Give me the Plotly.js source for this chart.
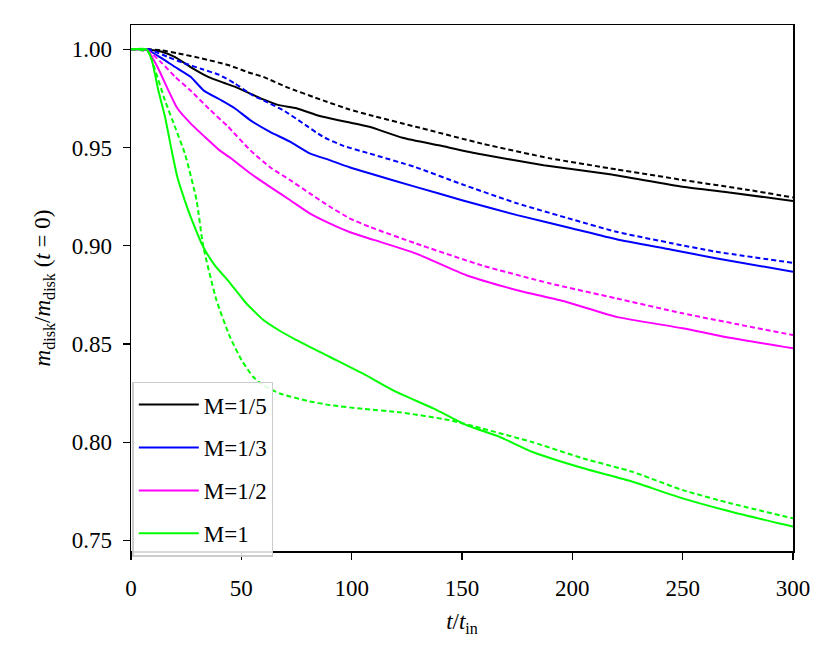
<!DOCTYPE html>
<html>
<head>
<meta charset="utf-8">
<script src="https://cdn.plot.ly/plotly-3.0.1.min.js"></script>
<style>html,body{margin:0;padding:0;background:#fff;}#chart{width:832px;height:659px;}</style>
</head>
<body>
<div id="chart"></div>
<script>
// M=1/5
const tBlackSolid = [0, 5, 8, 14, 20, 27, 35, 42, 47, 55, 60, 67, 75, 84, 90, 98, 108, 123, 140, 158, 187, 217, 250, 272, 300];
const vBlackSolid = [1.0, 1.0, 0.9998, 0.9988, 0.996, 0.991, 0.986, 0.983, 0.981, 0.977, 0.9745, 0.9716, 0.970, 0.9666, 0.9649, 0.963, 0.9606, 0.955, 0.951, 0.9467, 0.941, 0.9364, 0.930, 0.927, 0.9228];
const tBlackDash = [0, 8, 14, 21, 32, 44, 54, 60, 70, 87, 99, 108, 129, 159, 190, 220, 250, 280, 300];
const vBlackDash = [1.0, 1.0, 0.9995, 0.998, 0.9954, 0.992, 0.988, 0.986, 0.981, 0.974, 0.9694, 0.9666, 0.9606, 0.952, 0.9445, 0.9389, 0.9335, 0.9284, 0.9246];
// M=1/3
const tBlueSolid = [0, 7, 14, 20, 27, 33, 41, 47, 54, 63, 72, 81, 90, 99, 108, 129, 150, 175, 200, 220, 245, 265, 300];
const vBlueSolid = [1.0, 1.0, 0.9954, 0.991, 0.986, 0.979, 0.974, 0.970, 0.964, 0.958, 0.953, 0.947, 0.9436, 0.940, 0.9369, 0.930, 0.9232, 0.9156, 0.9088, 0.9033, 0.898, 0.8936, 0.8868];
const tBlueDash = [0, 8, 11, 17, 24, 32, 40, 47, 55, 60, 69, 78, 87, 96, 108, 129, 150, 175, 200, 220, 245, 265, 300];
const vBlueDash = [1.0, 1.0, 0.9988, 0.996, 0.993, 0.990, 0.987, 0.9827, 0.9767, 0.974, 0.969, 0.9623, 0.9555, 0.951, 0.947, 0.940, 0.9313, 0.9216, 0.9134, 0.9071, 0.9013, 0.897, 0.8913];
// M=1/2
const tMagSolid = [0, 7, 8, 12, 17, 21, 27, 35, 40, 45, 54, 63, 72, 81, 90, 99, 110, 129, 152, 175, 197, 220, 250, 272, 300];
const vMagSolid = [1.0, 1.0, 0.999, 0.991, 0.979, 0.970, 0.9623, 0.9538, 0.9487, 0.9448, 0.9369, 0.930, 0.9233, 0.9165, 0.9114, 0.907, 0.903, 0.8961, 0.885, 0.8774, 0.8715, 0.8638, 0.858, 0.853, 0.8478];
const tMagDash = [0, 8, 14, 20, 27, 36, 44, 54, 63, 72, 81, 90, 99, 108, 129, 159, 190, 220, 250, 275, 300];
const vMagDash = [1.0, 0.999, 0.993, 0.986, 0.979, 0.969, 0.9606, 0.9487, 0.940, 0.9335, 0.9267, 0.920, 0.914, 0.9097, 0.9012, 0.890, 0.8808, 0.8732, 0.8656, 0.860, 0.8545];
// M=1
const tGreenSolid = [0, 7, 9.4, 12.4, 15.4, 18.4, 21, 24.4, 27, 32.7, 38, 45, 52, 60, 67, 75, 90, 105, 120, 137, 152, 167, 182, 205, 227, 250, 272, 300];
const vGreenSolid = [1.0, 1.0, 0.9946, 0.979, 0.9657, 0.9487, 0.935, 0.923, 0.9148, 0.8995, 0.890, 0.8809, 0.871, 0.8622, 0.857, 0.852, 0.8435, 0.835, 0.8257, 0.8172, 0.8087, 0.8027, 0.795, 0.7867, 0.780, 0.7714, 0.7646, 0.757];
const tGreenDash = [0, 7.8, 10.9, 15.4, 19.9, 24.4, 29.7, 32.7, 38.7, 44.8, 50, 55.3, 60, 67.4, 80, 90, 105, 122, 144, 159, 182, 205, 227, 250, 272, 300];
const vGreenDash = [1.0, 0.9988, 0.9895, 0.974, 0.9606, 0.947, 0.9233, 0.9, 0.8724, 0.8537, 0.842, 0.8333, 0.829, 0.8248, 0.821, 0.8189, 0.817, 0.8152, 0.8113, 0.807, 0.800, 0.7917, 0.785, 0.7756, 0.7688, 0.7612];

const seriesNames = ['M=1/5', 'M=1/3', 'M=1/2', 'M=1'];
const xTicks = [0, 50, 100, 150, 200, 250, 300];
const yTicks = [0.75, 0.80, 0.85, 0.90, 0.95, 1.00];

const colors = ['#000000', '#0000ff', '#ff00ff', '#00ff00'];
const solid = [[tBlackSolid, vBlackSolid], [tBlueSolid, vBlueSolid], [tMagSolid, vMagSolid], [tGreenSolid, vGreenSolid]];
const dashed = [[tBlackDash, vBlackDash], [tBlueDash, vBlueDash], [tMagDash, vMagDash], [tGreenDash, vGreenDash]];

const traces = [];
for (let i = 0; i < 4; i++) {
  traces.push({x: solid[i][0], y: solid[i][1], type: 'scatter', mode: 'lines',
    name: seriesNames[i], legendgroup: 'g' + i,
    line: {color: colors[i], width: 2, shape: 'spline', smoothing: 0.5}});
  traces.push({x: dashed[i][0], y: dashed[i][1], type: 'scatter', mode: 'lines',
    showlegend: false, legendgroup: 'g' + i,
    line: {color: colors[i], width: 2, dash: '5px,3px', shape: 'spline', smoothing: 0.5}});
}

const fam = '"Liberation Serif", "DejaVu Serif", serif';
const font = {family: fam, size: 23, color: '#000'};
const tickFont = {family: fam, size: 23, color: '#000'};
const layout = {
  width: 832, height: 659,
  margin: {l: 131, r: 39, t: 25, b: 108},
  paper_bgcolor: '#fff', plot_bgcolor: '#fff',
  font: font,
  showlegend: true,
  legend: {x: 0.002, y: 0.322, xanchor: 'left', yanchor: 'top',
    bgcolor: 'rgba(255,255,255,0.85)', bordercolor: '#cccccc', borderwidth: 1.5,
    font: font, traceorder: 'grouped', tracegroupgap: 10, itemwidth: 60},
  xaxis: {range: [0, 300], tickvals: xTicks, ticktext: xTicks.map(String), tickfont: tickFont,
    ticks: 'outside', ticklen: 7, tickwidth: 1.3, tickcolor: '#000',
    showline: true, linecolor: '#000', linewidth: 1.5, mirror: true,
    showgrid: false, zeroline: false, ticklabelstandoff: 9,
    title: {text: '<i>t</i>/<i>t</i><sub>in</sub>', font: font, standoff: 13}},
  yaxis: {range: [0.7446, 1.0124], tickvals: yTicks, ticktext: yTicks.map(v => v.toFixed(2)), tickfont: tickFont,
    ticks: 'outside', ticklen: 7, tickwidth: 1.3, tickcolor: '#000',
    showline: true, linecolor: '#000', linewidth: 1.5, mirror: true,
    showgrid: false, zeroline: false, ticklabelstandoff: 6,
    title: {text: '<i>m</i><sub>disk</sub>/<i>m</i><sub>disk</sub> (<i>t</i> = 0)', font: font, standoff: 14}}
};

Plotly.newPlot('chart', traces, layout, {displayModeBar: false, staticPlot: true});
</script>
</body>
</html>
